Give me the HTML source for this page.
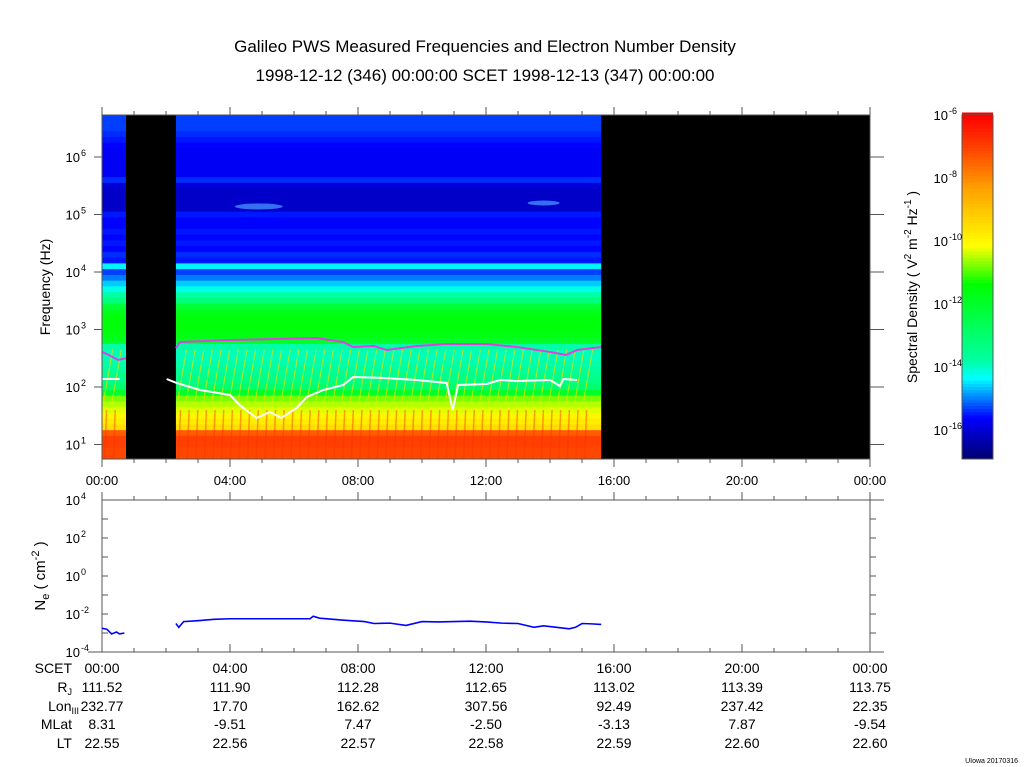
<!DOCTYPE html>
<html><head><meta charset="utf-8"><style>
html,body{margin:0;padding:0;background:#fff;}
svg{display:block;font-family:"Liberation Sans",sans-serif;}
</style></head><body>
<svg id="chart" width="1024" height="767" viewBox="0 0 1024 767" xmlns="http://www.w3.org/2000/svg">
<text x="485" y="52" font-size="17" text-anchor="middle">Galileo PWS Measured Frequencies and Electron Number Density</text>
<text x="485" y="81" font-size="17" text-anchor="middle">1998-12-12 (346) 00:00:00 SCET 1998-12-13 (347) 00:00:00</text>
<g id="spec"></g>
<g id="lines"></g>
<g id="axes"></g>
<g id="ne"></g>
<g id="cbar"></g>
<text transform="translate(50,287) rotate(-90)" font-size="14" text-anchor="middle">Frequency (Hz)</text>
<text transform="translate(917,287) rotate(-90)" font-size="14" text-anchor="middle">Spectral Density ( V<tspan font-size="10" dy="-6">2</tspan><tspan dy="6"> m</tspan><tspan font-size="10" dy="-6">-2</tspan><tspan dy="6"> Hz</tspan><tspan font-size="10" dy="-6">-1</tspan><tspan dy="6"> )</tspan></text>
<text transform="translate(45,576) rotate(-90)" font-size="15" text-anchor="middle">N<tspan font-size="11" dy="4">e</tspan><tspan dy="-4"> ( cm</tspan><tspan font-size="11" dy="-6">-2</tspan><tspan dy="6"> )</tspan></text>
<g id="table" font-size="14"></g>
<text x="1018" y="763" font-size="7" text-anchor="end">UIowa 20170316</text>
</svg>
<script>
// ---- data ----
const profileLogF = [6.7,6.6,6.5,6.4,6.3,6.2,6.1,6.0,5.9,5.8,5.7,5.6,5.5,5.4,5.3,5.2,5.1,5.0,4.9,4.8,4.7,4.6,4.5,4.4,4.3,4.2,4.1,4.0,3.9,3.8,3.7,3.6,3.5,3.4,3.3,3.2,3.1,3.0,2.9,2.8,2.7,2.6,2.5,2.4,2.3,2.2,2.1,2.0,1.9,1.8,1.7,1.6,1.5,1.4,1.3,1.2,1.1,1.0,0.9,0.8];
const profileDensity = [-15.3,-15.3,-15.3,-15.4,-15.5,-15.6,-15.7,-15.7,-15.7,-15.7,-15.7,-15.4,-16.0,-16.1,-16.1,-16.1,-16.1,-15.5,-15.6,-15.6,-15.5,-15.6,-15.5,-15.6,-15.4,-15.5,-14.4,-15.3,-15.0,-14.6,-14.2,-13.8,-13.2,-12.2,-11.7,-11.5,-11.5,-11.5,-11.6,-11.9,-13.8,-13.9,-13.9,-13.8,-13.7,-13.5,-13.3,-13.0,-12.0,-10.8,-10.5,-10.3,-10.0,-9.8,-9.5,-7.4,-7.0,-7.0,-7.1,-7.1];
const dataSegStart = [0.0, 2.31];
const dataSegEnd = [0.75, 15.6];
const magentaT1 = [0,0.2,0.5,0.75];
const magentaF1 = [2.61,2.56,2.47,2.50];
const magentaT2 = [2.31,2.44,4.0,6.71,7.53,7.85,8.5,8.9,9.83,10.77,12.02,12.96,14.0,14.5,14.85,15.6];
const magentaF2 = [2.678,2.783,2.817,2.852,2.783,2.696,2.713,2.643,2.713,2.748,2.748,2.696,2.61,2.557,2.643,2.696];
const whiteT1 = [0.0,0.55];
const whiteF1 = [2.14,2.14];
const whiteT2 = [2.02,2.33,3.06,4.0,4.3,4.83,5.25,5.6,6.08,6.4,6.92,7.54,7.85,8.79,9.83,10.77,10.96,11.13,12.02,12.44,12.96,14.0,14.31,14.42,14.85];
const whiteF2 = [2.139,2.070,1.948,1.861,1.687,1.461,1.565,1.461,1.635,1.826,1.948,2.035,2.174,2.157,2.122,2.070,1.6,2.035,2.052,2.122,2.104,2.122,2.017,2.139,2.122];
const neT1 = [0.0,0.15,0.3,0.45,0.55,0.7];
const neV1 = [-2.75,-2.8,-3.05,-2.95,-3.05,-3.0];
const neT2 = [2.31,2.4,2.55,3.0,3.5,4.0,5.0,6.5,6.6,6.8,7.5,8.2,8.5,9.0,9.5,10.0,10.5,11.5,12.0,12.5,13.0,13.5,13.8,14.2,14.6,14.8,15.0,15.3,15.6];
const neV2 = [-2.5,-2.7,-2.4,-2.35,-2.28,-2.25,-2.25,-2.25,-2.12,-2.22,-2.32,-2.4,-2.5,-2.48,-2.6,-2.4,-2.42,-2.38,-2.42,-2.48,-2.5,-2.7,-2.62,-2.7,-2.78,-2.7,-2.5,-2.52,-2.55];
const timeTicks = ["00:00","04:00","08:00","12:00","16:00","20:00","00:00"];
const freqTicks = [1,2,3,4,5,6];
const neTicks = [-4,-2,0,2,4];
const cbarTicks = [-16,-14,-12,-10,-8,-6];
const rowNames = ["SCET","R","Lon","MLat","LT"];
const rowR = ["111.52","111.90","112.28","112.65","113.02","113.39","113.75"];
const rowLon = ["232.77","17.70","162.62","307.56","92.49","237.42","22.35"];
const rowMLat = ["8.31","-9.51","7.47","-2.50","-3.13","7.87","-9.54"];
const rowLT = ["22.55","22.56","22.57","22.58","22.59","22.60","22.60"];

// ---- scales ----
const X0=102, X1=870, Y0=115, Y1=459;
const tx = t => X0 + t*(X1-X0)/24;
const fy = lf => 157 + (6-lf)*57.5;
const ny = v => 500 + (4-v)*(152/8);
const CB0=-16.92, CB1=-6, CBY0=115, CBY1=459;
const cy = v => CBY1 - (v-CB0)/(CB1-CB0)*(CBY1-CBY0);
const stops=[[0,[0,0,110]],[0.12,[0,0,255]],[0.235,[0,255,255]],[0.29,[0,255,160]],[0.51,[0,255,0]],[0.62,[255,255,0]],[0.79,[255,160,0]],[0.9,[255,70,0]],[1,[255,0,0]]];
function cmap(v){
  let f=(v-CB0)/(CB1-CB0); f=Math.max(0,Math.min(1,f));
  for(let i=1;i<stops.length;i++){ if(f<=stops[i][0]){const a=stops[i-1],b=stops[i];const k=(f-a[0])/(b[0]-a[0]);
    const c=a[1].map((x,j)=>Math.round(x+(b[1][j]-x)*k)); return `rgb(${c[0]},${c[1]},${c[2]})`;}}
  return 'rgb(255,0,0)';
}
const NS='http://www.w3.org/2000/svg';
function mk(tag,attrs,parent){const e=document.createElementNS(NS,tag);for(const k in attrs)e.setAttribute(k,attrs[k]);parent.appendChild(e);return e;}

// ---- spectrogram ----
const spec=document.getElementById('spec');
const bg=mk('rect',{x:X0,y:Y0,width:X1-X0,height:Y1-Y0,fill:'#000'},spec);


for(let s=0;s<dataSegStart.length;s++){
  const xa=tx(dataSegStart[s]), xb=tx(dataSegEnd[s]);
  for(let i=0;i<profileLogF.length;i++){
    const yt=Math.max(Y0,fy(profileLogF[i]+0.05)), yb=Math.min(Y1,fy(profileLogF[i]-0.05));
    if(yb<=yt)continue;
    const r=mk('rect',{x:xa,y:yt,width:xb-xa,height:yb-yt+0.5,fill:cmap(profileDensity[i])},spec);
    
    
  }
  for(let t=dataSegStart[s]+0.05;t<dataSegEnd[s];t+=0.27){
    if(tx(t)+9>xb) break;
    const l=mk('line',{x1:tx(t),y1:fy(1.75),x2:tx(t)+9,y2:fy(2.65),stroke:'#e8e000','stroke-width':1.2,opacity:0.7},spec);
    
    
    const l2=mk('line',{x1:tx(t)+1,y1:fy(0.75),x2:tx(t)+3,y2:fy(1.6),stroke:'#ff3000','stroke-width':1.5,opacity:0.45},spec);
    
    
  }
}
const patch=mk('ellipse',{cx:tx(4.9),cy:fy(5.14),rx:24,ry:3,fill:'#4aa0ff',opacity:0.7},spec);


const patch2=mk('ellipse',{cx:tx(13.8),cy:fy(5.2),rx:16,ry:2.5,fill:'#4aa0ff',opacity:0.7},spec);



// ---- lines ----
const lines=document.getElementById('lines');
function poly(T,F,col,name,yfn){
  const p=mk('polyline',{points:T.map((t,i)=>tx(t)+','+yfn(F[i])).join(' '),fill:'none',stroke:col,'stroke-width':2},lines);
  
  
}
poly(magentaT1,magentaF1,'#e040e0','upper-hybrid-line-1',fy);
poly(magentaT2,magentaF2,'#e040e0','upper-hybrid-line-2',fy);
poly(whiteT1,whiteF1,'#ffffff','plasma-freq-line-1',fy);
poly(whiteT2,whiteF2,'#ffffff','plasma-freq-line-2',fy);

// ---- axes ----
const ax=document.getElementById('axes');
function frame(y0,y1,name){const r=mk('rect',{x:X0,y:y0,width:X1-X0,height:y1-y0,fill:'none',stroke:'#555','stroke-width':1},ax);
  }
frame(Y0,Y1,'spectrogram-frame');
for(let h=0;h<=24;h++){
  const x=tx(h), L=(h%4==0)?8:4;
  mk('line',{x1:x,y1:Y0,x2:x,y2:Y0-L,stroke:'#555'},ax);
  mk('line',{x1:x,y1:Y1,x2:x,y2:Y1+L,stroke:'#555'},ax);
  mk('line',{x1:x,y1:500,x2:x,y2:500-L,stroke:'#555'},ax);
  mk('line',{x1:x,y1:652,x2:x,y2:652-L,stroke:'#555'},ax);
}
timeTicks.forEach((s,i)=>{const t=mk('text',{x:tx(i*4),y:485,'font-size':13,'text-anchor':'middle'},ax);t.textContent=s;
  });
freqTicks.forEach(e=>{const y=fy(e);
  mk('line',{x1:X0,y1:y,x2:X0-8,y2:y,stroke:'#555'},ax);
  mk('line',{x1:X1,y1:y,x2:X1+14,y2:y,stroke:'#555'},ax);
  const t=mk('text',{x:80,y:y+5,'font-size':13,'text-anchor':'end'},ax);t.textContent='10';
  
  const s=mk('text',{x:81,y:y-1,'font-size':9},ax);s.textContent=e;
});

// ---- density panel ----
const ne=document.getElementById('ne');
const nf=mk('line',{x1:X0,y1:500,x2:X1+14,y2:500,stroke:'#555'},ne);

mk('line',{x1:X0,y1:500,x2:X0,y2:652,stroke:'#555'},ne);
mk('line',{x1:X1,y1:500,x2:X1,y2:652,stroke:'#555'},ne);
mk('line',{x1:X0-14,y1:652,x2:X1+14,y2:652,stroke:'#555'},ne);
for(let v=-4;v<=4;v++){const y=ny(v);
  mk('line',{x1:X0,y1:y,x2:X0+6,y2:y,stroke:'#555'},ne);
  mk('line',{x1:X1,y1:y,x2:X1+6,y2:y,stroke:'#555'},ne);}
neTicks.forEach(e=>{const y=ny(e);
  const t=mk('text',{x:80,y:y+5,'font-size':13,'text-anchor':'end'},ne);t.textContent='10';
  
  const s=mk('text',{x:81,y:y-1,'font-size':9},ne);s.textContent=e;});
const n1=mk('polyline',{points:neT1.map((t,i)=>tx(t)+','+ny(neV1[i])).join(' '),fill:'none',stroke:'#0000ff','stroke-width':1.6},ne);

const n2=mk('polyline',{points:neT2.map((t,i)=>tx(t)+','+ny(neV2[i])).join(' '),fill:'none',stroke:'#0000ff','stroke-width':1.6},ne);


// ---- colorbar ----
const cb=document.getElementById('cbar');
for(let v=CB0;v<CB1;v+=0.1){
  const r=mk('rect',{x:962,y:cy(v+0.1),width:31,height:cy(v)-cy(v+0.1)+0.5,fill:cmap(v+0.05)},cb);
  
}
mk('rect',{x:962,y:CBY0,width:31,height:CBY1-CBY0,fill:'none',stroke:'#555'},cb);
cbarTicks.forEach(e=>{const y=cy(e);
  const t=mk('text',{x:948,y:y+5,'font-size':13,'text-anchor':'end'},cb);t.textContent='10';
  
  const s=mk('text',{x:949,y:y-1,'font-size':9},cb);s.textContent=e;});

// ---- table ----
const tb=document.getElementById('table');
const rowY=[673,692,711,729,748];
rowNames.forEach((n,i)=>{const t=mk('text',{x:72,y:rowY[i],'text-anchor':'end'},tb);
  
  if(n==='R'){t.innerHTML='R<tspan font-size="9" dy="3">J</tspan>';}
  else if(n==='Lon'){t.innerHTML='Lon<tspan font-size="9" dy="3">III</tspan>';t.setAttribute('x',79);}
  else t.textContent=n;});
[timeTicks,rowR,rowLon,rowMLat,rowLT].forEach((arr,r)=>arr.forEach((s,i)=>{
  const t=mk('text',{x:tx(i*4),y:rowY[r],'text-anchor':'middle'},tb);t.textContent=s;
  }));
</script>
</body></html>
